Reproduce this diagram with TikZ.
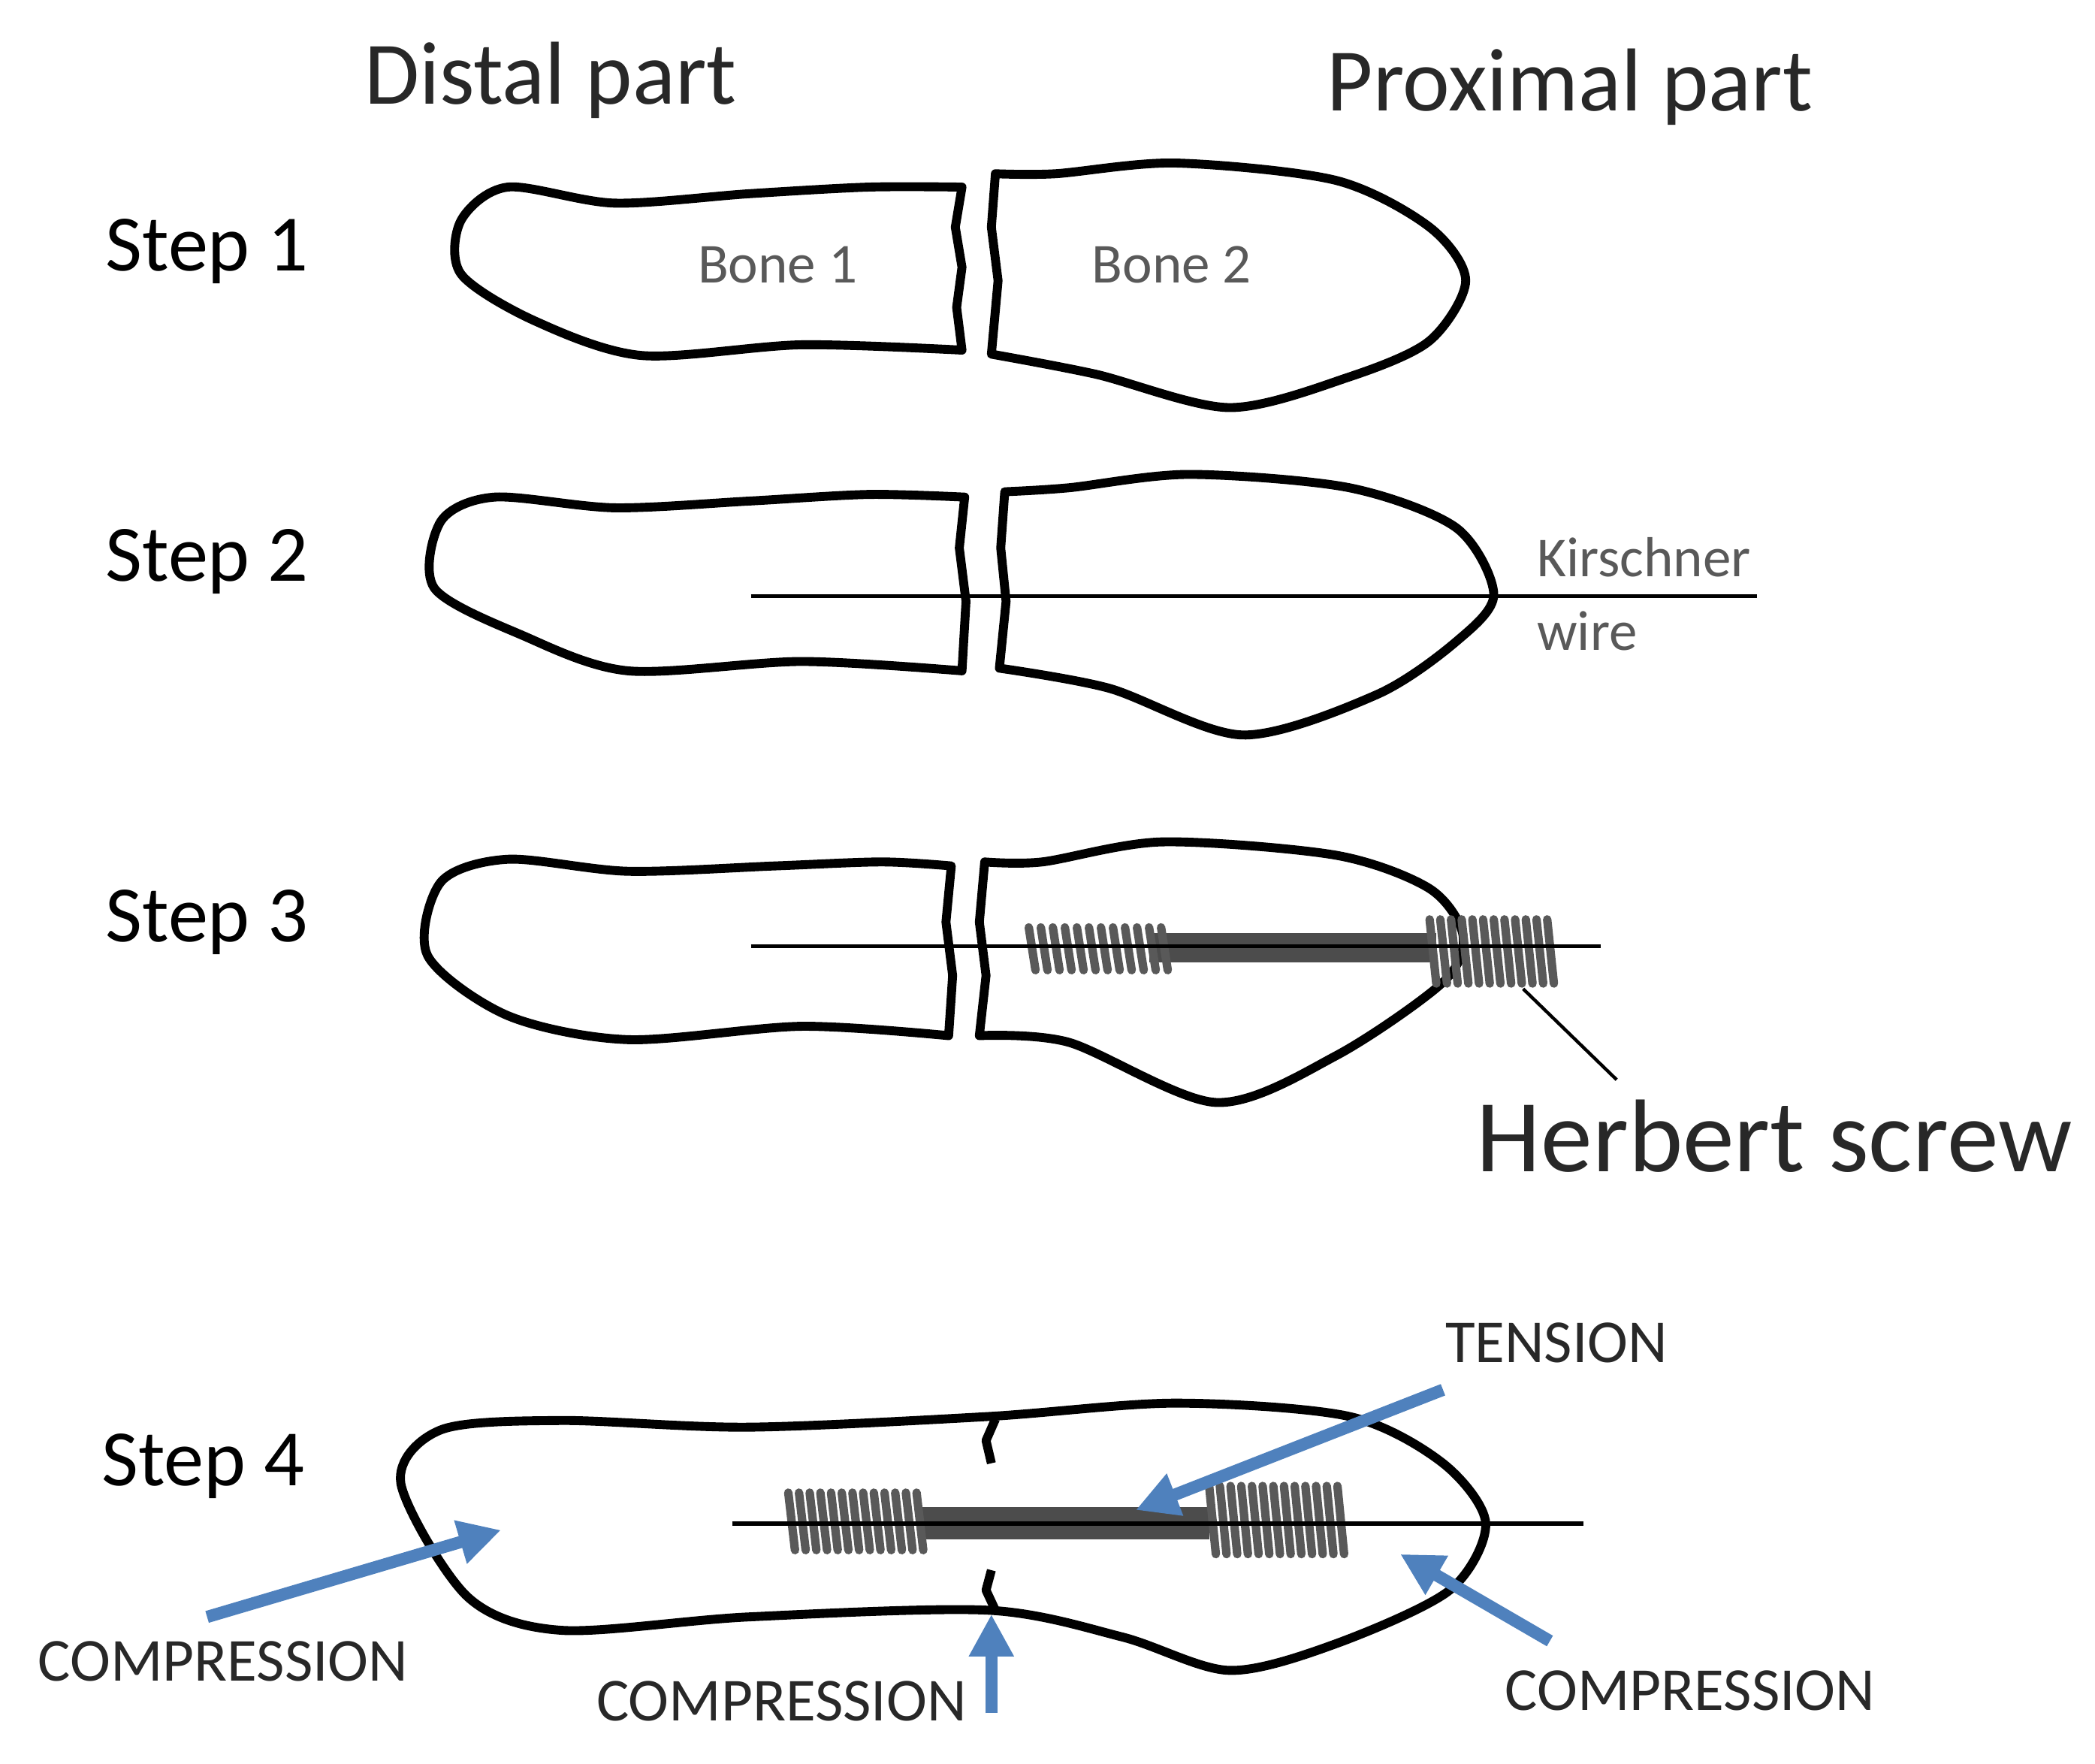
\documentclass[tikz,border=0pt]{standalone}
\usepackage{fontspec}
\setmainfont{Carlito}
\usetikzlibrary{arrows.meta}
\definecolor{ablue}{RGB}{79,129,189}
\definecolor{txt}{RGB}{40,40,40}
\begin{document}
\begin{tikzpicture}[x=0.01cm,y=-0.01cm,
  bone/.style={line width=1.9pt,line join=round},
  wire/.style={line width=0.9pt},
  thr/.style={line width=1.8pt,gray!70!black,line cap=round},
  barrow/.style={ablue,line width=2.6pt,-{Triangle[length=9pt,width=9pt]}},
  big/.style={font=\fontsize{19}{20}\selectfont,text=txt},
  steplab/.style={font=\fontsize{17}{18}\selectfont,text=black},
  small/.style={font=\fontsize{12}{13}\selectfont,text=gray!70!black},
  lab/.style={font=\fontsize{13}{14}\selectfont,text=txt}]
\useasboundingbox (0,0) rectangle (1568,1320);
% headings
\node[big] (hd) at (412,60) {Distal part};
\node[big] (hp) at (1175,65) {Proximal part};
\node[steplab] (s1) at (155,188) {Step 1};
\node[steplab] (s2) at (155,420) {Step 2};
\node[steplab] (s3) at (155,690) {Step 3};
\node[steplab] (s4) at (152,1097) {Step 4};
% ---------- step 1
\draw[bone] (720,140) -- (715,170) -- (720,200) -- (716,230) -- (720,262)
  -- plot[smooth] coordinates {(720,262) (600,258) (480,266) (400,240) (345,205) (345,165) (380,140) (460,152) (560,145) (650,140) (720,140)} -- cycle;
\draw[bone] (745,130) -- (742,170) -- (747,210) -- (742,265)
  -- plot[smooth] coordinates {(742,265) (820,280) (920,305) (1010,282) (1070,255) (1097,210) (1070,170) (1000,135) (880,122) (790,130) (745,130)} -- cycle;
\node[small] (b1) at (582,198) {Bone 1};
\node[small] (b2) at (877,198) {Bone 2};
% ---------- step 2
\draw[bone] (722,372) -- (718,410) -- (723,450) -- (720,502)
  -- plot[smooth] coordinates {(720,502) (600,495) (470,502) (390,475) (325,440) (330,390) (370,372) (460,380) (560,375) (650,370) (722,372)} -- cycle;
\draw[bone] (752,368) -- (749,410) -- (753,450) -- (748,500)
  -- plot[smooth] coordinates {(748,500) (830,515) (930,550) (1030,520) (1090,480) (1118,445) (1090,395) (1010,365) (890,355) (800,365) (752,368)} -- cycle;
\coordinate (w2a) at (562,446); \coordinate (w2b) at (1315,446);
\draw[wire] (w2a) -- (w2b);
\node[small,anchor=west] (kw1) at (1138,417) {Kirschner};
\node[small,anchor=west] (kw2) at (1138,472) {wire};
% ---------- step 3
\draw[bone] (712,648) -- (708,690) -- (713,730) -- (710,775)
  -- plot[smooth] coordinates {(710,775) (600,768) (470,778) (380,760) (320,715) (330,660) (380,643) (470,652) (580,648) (660,645) (712,648)} -- cycle;
\draw[bone] (737,645) -- (733,690) -- (738,730) -- (733,775)
  -- plot[smooth] coordinates {(733,775) (800,780) (910,825) (1000,790) (1080,735) (1095,700) (1070,665) (1000,640) (870,630) (780,645) (737,645)} -- cycle;
\coordinate (w3a) at (562,708); \coordinate (w3b) at (1198,708);
\fill[gray!60!black] (860,698) rectangle (1075,720);
\foreach \x in {770,779,...,870} \draw[thr] (\x,694) -- (\x+5,726);
\foreach \x in {1070,1078,...,1158} \draw[thr] (\x,688) -- (\x+5,736);
\draw[wire] (w3a) -- (w3b);
\coordinate (hl) at (1140,740);
\node[big,font=\fontsize{22}{23}\selectfont] (hs) at (1328,850) {Herbert screw};
\draw[line width=0.7pt] (hl) -- (1210,808);
% ---------- step 4
\draw[bone] plot[smooth cycle] coordinates {(300,1110) (330,1070) (420,1063) (560,1068) (740,1060) (880,1050) (1010,1060) (1080,1095) (1112,1140) (1085,1190) (1000,1230) (920,1250) (840,1225) (740,1205) (560,1210) (420,1220) (350,1195)};
\draw[bone] (745,1062) -- (738,1078) -- (742,1095);
\draw[bone] (742,1175) -- (738,1190) -- (745,1205);
\fill[gray!60!black] (690,1128) rectangle (905,1152);
\foreach \x in {590,598,...,690} \draw[thr] (\x,1117) -- (\x+5,1160);
\foreach \x in {905,913,...,1005} \draw[thr] (\x,1112) -- (\x+5,1163);
\coordinate (w4a) at (548,1140); \coordinate (w4b) at (1185,1140);
\draw[wire] (w4a) -- (w4b);
\node[lab] (t) at (1165,1005) {TENSION};
\node[lab] (c1) at (167,1243) {COMPRESSION};
\node[lab] (c2) at (585,1273) {COMPRESSION};
\node[lab] (c3) at (1265,1265) {COMPRESSION};
\coordinate (a1) at (155,1210); \coordinate (a1e) at (375,1145);
\coordinate (a2) at (742,1282); \coordinate (a2e) at (742,1208);
\coordinate (a3) at (1160,1228); \coordinate (a3e) at (1048,1163);
\coordinate (a4) at (1080,1040); \coordinate (a4e) at (850,1130);
\draw[barrow] (a1) -- (a1e);
\draw[barrow] (a2) -- (a2e);
\draw[barrow] (a3) -- (a3e);
\draw[barrow] (a4) -- (a4e);
\end{tikzpicture}
\end{document}
